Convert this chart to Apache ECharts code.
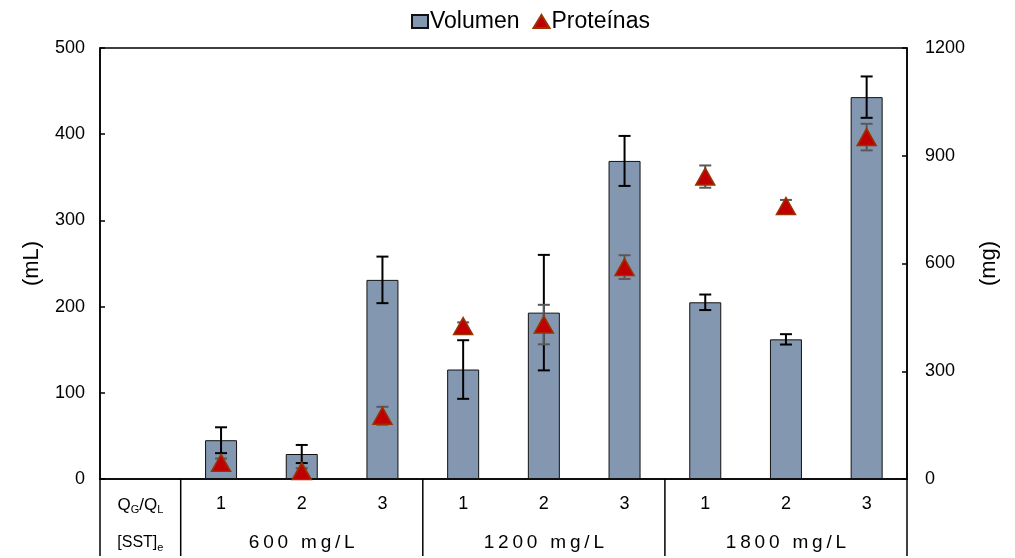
<!DOCTYPE html>
<html>
<head>
<meta charset="utf-8">
<script src="https://cdn.jsdelivr.net/npm/echarts@6/dist/echarts.min.js"></script>
<style>html,body{margin:0;padding:0;background:#fff;}#c{width:1015px;height:558px;}</style>
</head>
<body>
<div id="c"></div>
<script>
// ---- data ----
const categories = ['', '1', '2', '3', '1', '2', '3', '1', '2', '3'];
const groupLabels = ['600 mg/L', '1200 mg/L', '1800 mg/L'];
const rowHeader1 = 'QG/QL';
const rowHeader2 = '[SST]e';
const volume    = [null, 45, 29, 231, 127, 193, 369, 205, 162, 443];
const volumeErr = [null, 15, 10.5, 27, 34, 67, 29, 9, 6, 24];
const protein    = [null, 45, 22, 176, 426, 430, 590, 842, 760, 952];
const proteinErr = [null, 12, 8, 25, 10, 55, 33, 31, 17, 37];
const leftTicks = { min: 0, max: 500, interval: 100 };
const rightTicks = { min: 0, max: 1200, interval: 300 };

const FONT = "'Liberation Sans', Arial, sans-serif";
const groupAxisData = categories.map(() => '');
groupAxisData[0] = rowHeader2;
groupLabels.forEach((g, i) => { groupAxisData[2 + i * 3] = g; });

const volErrData = volume.map((v, i) => v == null ? null : [i, v - volumeErr[i], v + volumeErr[i]]).filter(Boolean);
const protErrData = protein.map((v, i) => v == null ? null : [i, v - proteinErr[i], v + proteinErr[i]]).filter(Boolean);

function errRender(color, cap) {
  return function (params, api) {
    const x = api.value(0);
    const lo = api.coord([x, api.value(1)]);
    const hi = api.coord([x, api.value(2)]);
    const style = { stroke: color, lineWidth: 2 };
    return {
      type: 'group',
      children: [
        { type: 'line', shape: { x1: lo[0], y1: lo[1], x2: hi[0], y2: hi[1] }, style },
        { type: 'line', shape: { x1: lo[0] - cap, y1: lo[1], x2: lo[0] + cap, y2: lo[1] }, style },
        { type: 'line', shape: { x1: hi[0] - cap, y1: hi[1], x2: hi[0] + cap, y2: hi[1] }, style }
      ]
    };
  };
}

const chart = echarts.init(document.getElementById('c'), null, { renderer: 'canvas' });
const option = {
  animation: false,
  backgroundColor: '#fff',
  textStyle: { fontFamily: FONT, color: '#000' },
  legend: {
    top: 5,
    left: 406,
    itemWidth: 16,
    itemHeight: 13,
    itemGap: 13,
    textStyle: { fontSize: 23, fontFamily: FONT, color: '#000', padding: [0, 0, 0, -3] },
    data: [
      { name: 'Volumen', icon: 'rect' },
      { name: 'Proteínas', icon: 'triangle' }
    ]
  },
  grid: { left: 100, right: 108, top: 48, bottom: 79, show: true, borderColor: '#000', borderWidth: 1.5 },
  xAxis: [
    {
      type: 'category',
      data: categories,
      axisLine: { lineStyle: { color: '#000', width: 1.5 } },
      axisTick: { show: false },
      axisLabel: {
        interval: 0, fontSize: 18, color: '#000', margin: 16, fontFamily: FONT,
        formatter: function (v, i) {
          if (i === 0) return '{q|Q}{s|G}{q|/Q}{s|L}';
          return v;
        },
        rich: {
          q: { fontSize: 17, lineHeight: 20, color: '#000', fontFamily: FONT },
          s: { fontSize: 11, lineHeight: 20, verticalAlign: 'bottom', padding: [6, 0, 0, 0], color: '#000', fontFamily: FONT }
        }
      }
    },
    {
      type: 'category',
      data: groupAxisData,
      position: 'bottom',
      offset: 38,
      axisLine: { show: false },
      axisTick: { show: false },
      axisLabel: {
        interval: 0, fontSize: 19, color: '#000', margin: 16, fontFamily: FONT,
        formatter: function (v, i) {
          if (i === 0) return '{q|[SST]}{s|e}';
          return v.split('').join('\u2009');
        },
        rich: {
          q: { fontSize: 16, lineHeight: 20, color: '#000', fontFamily: FONT },
          s: { fontSize: 11, lineHeight: 20, verticalAlign: 'bottom', padding: [6, 0, 0, 0], color: '#000', fontFamily: FONT }
        }
      }
    }
  ],
  yAxis: [
    {
      type: 'value',
      min: leftTicks.min, max: leftTicks.max, interval: leftTicks.interval,
      name: '(mL)', nameLocation: 'middle', nameGap: 57, nameRotate: 90,
      nameTextStyle: { fontSize: 22, color: '#000', fontFamily: FONT },
      axisLine: { show: true, lineStyle: { color: '#000', width: 1.5 } },
      axisTick: { show: true, inside: true, length: 5, lineStyle: { color: '#000', width: 1.5 } },
      axisLabel: { fontSize: 18, color: '#000', margin: 15, fontFamily: FONT },
      splitLine: { show: false }
    },
    {
      type: 'value',
      position: 'right',
      min: rightTicks.min, max: rightTicks.max, interval: rightTicks.interval,
      name: '(mg)', nameLocation: 'middle', nameGap: 71, nameRotate: 90,
      nameTextStyle: { fontSize: 22, color: '#000', fontFamily: FONT },
      axisLine: { show: true, lineStyle: { color: '#000', width: 1.5 } },
      axisTick: { show: true, inside: true, length: 5, lineStyle: { color: '#000', width: 1.5 } },
      axisLabel: { fontSize: 18, color: '#000', margin: 18, fontFamily: FONT, formatter: v => String(v) },
      splitLine: { show: false }
    }
  ],
  series: [
    {
      name: 'Volumen',
      type: 'bar',
      data: volume,
      barWidth: 32,
      itemStyle: { color: '#8497b0', borderColor: '#111', borderWidth: 1 },
      z: 2
    },
    {
      name: 'VolErr',
      type: 'custom',
      data: volErrData,
      renderItem: errRender('#000', 6),
      z: 3,
      silent: true
    },
    {
      name: 'ProtErr',
      type: 'custom',
      yAxisIndex: 1,
      data: protErrData,
      renderItem: errRender('#595959', 6),
      z: 4,
      silent: true
    },
    {
      name: 'Proteínas',
      type: 'scatter',
      yAxisIndex: 1,
      data: protein.map((v, i) => v == null ? null : [i, v]).filter(Boolean),
      symbol: 'triangle',
      symbolSize: [19, 17],
      itemStyle: { color: '#c00000', borderColor: '#993300', borderWidth: 1.5, opacity: 1 },
      z: 5
    }
  ]
};
chart.setOption(option);

// table separator lines (below the plot), derived from category positions
const c0 = chart.convertToPixel({ xAxisIndex: 0 }, 0);
const c1 = chart.convertToPixel({ xAxisIndex: 0 }, 1);
const band = c1 - c0;
const yBase = chart.convertToPixel({ yAxisIndex: 0 }, 0);
const boundaries = [0, 1, 4, 7, 10];
chart.setOption({
  graphic: boundaries.map(b => ({
    type: 'line',
    shape: { x1: c0 - band / 2 + b * band, y1: yBase, x2: c0 - band / 2 + b * band, y2: 556 },
    style: { stroke: '#000', lineWidth: 1.5 },
    z: 10
  }))
});
</script>
</body>
</html>
